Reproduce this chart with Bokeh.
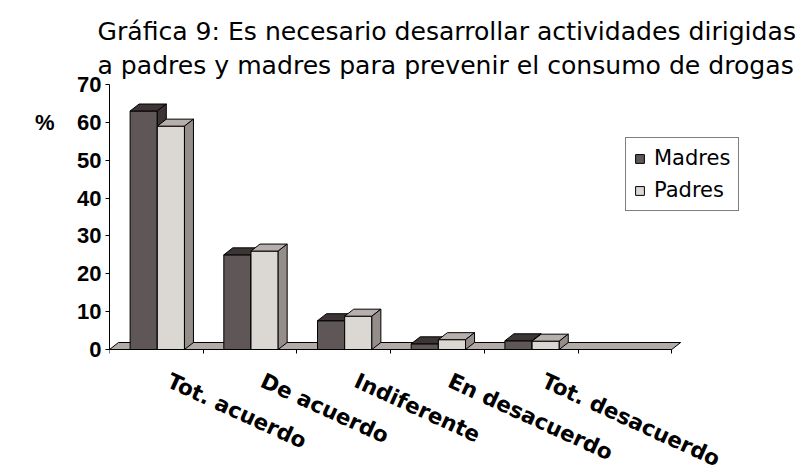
from bokeh.plotting import figure
from bokeh.models import Range1d, FixedTicker, Legend, LegendItem, LinearAxis, Title
from bokeh.embed import file_html
from bokeh.resources import INLINE

# ---- data ----
categories = ["Tot. acuerdo", "De acuerdo", "Indiferente", "En desacuerdo", "Tot. desacuerdo"]
series_names = ["Madres", "Padres"]
madres = [63, 25, 7.6, 1.5, 2.3]
padres = [59, 26, 8.8, 2.6, 2.2]
y_ticks = [0, 10, 20, 30, 40, 50, 60, 70]
title_lines = ["Gráfica 9: Es necesario desarrollar actividades dirigidas",
               "a padres y madres para prevenir el consumo de drogas"]
y_unit = "%"
y_unit_pos = 60

# ---- layout ----
W, H = 803, 473
PX_CAT = 93.7
FL, FT = 109, 84
ZERO_Y = 349           # pixel row of value 0
TOP_Y = 84             # pixel row of value 70
PX_VAL = (ZERO_Y - TOP_Y) / 70.0
frame_w = W - FL
x_end = frame_w / PX_CAT
y_end = 70.0
y_start = -(H - ZERO_Y) / PX_VAL
n_slots = len(categories) + 1
DX = 9 / PX_CAT
DY = 7 / PX_VAL
BAR_OFF = 0.22
BAR_W = 0.29
LABEL_SHIFT = 0.13

front_cols = ["#5f5757", "#dbd7d3"]
top_cols = ["#3d3535", "#b7afac"]
side_cols = ["#3d3535", "#958d8a"]
floor_col = "#b3aba8"

p = figure(width=W, height=H, x_range=Range1d(0, x_end), y_range=Range1d(y_start, y_end),
           output_backend="svg", toolbar_location=None,
           min_border_left=FL, min_border_right=0, min_border_top=FT, min_border_bottom=0)
p.xgrid.visible = False
p.ygrid.visible = False
p.outline_line_color = None
p.background_fill_color = "white"
p.border_fill_color = "white"

p.title = Title(text="\n".join(title_lines), align="left", offset=-12,
                text_font="DejaVu Sans", text_font_size="25.1px", text_font_style="normal",
                text_color="black", text_line_height=1.2, standoff=8)

# floor
p.patch([0, n_slots, n_slots + DX, DX], [0, 0, DY, DY], fill_color=floor_col,
        line_color="black", line_width=1)

front_renderers = []
for s, vals in enumerate([madres, padres]):
    x0 = [i + BAR_OFF + s * BAR_W for i in range(len(categories))]
    x1 = [a + BAR_W for a in x0]
    r = p.quad(left=x0, right=x1, bottom=[0] * len(vals), top=vals,
               fill_color=front_cols[s], line_color="black", line_width=1)
    front_renderers.append(r)
    tx, ty, sx, sy = [], [], [], []
    for a, b, h in zip(x0, x1, vals):
        tx.append([a, b, b + DX, a + DX]); ty.append([h, h, h + DY, h + DY])
        sx.append([b, b + DX, b + DX, b]); sy.append([0, DY, h + DY, h])
    p.patches(tx, ty, fill_color=top_cols[s], line_color="black", line_width=1)
    p.patches(sx, sy, fill_color=side_cols[s], line_color="black", line_width=1)

# x axis, drawn at value 0
label_pos = [i + 0.5 + LABEL_SHIFT for i in range(len(categories))]
xa = p.xaxis[0]
xa.fixed_location = 0
xa.ticker = FixedTicker(ticks=label_pos, minor_ticks=list(range(n_slots + 1)))
xa.major_label_overrides = {c: n for c, n in zip(label_pos, categories)}
xa.bounds = (0, n_slots)
xa.major_label_orientation = -0.43
xa.major_tick_out = 0
xa.major_tick_in = 0
xa.minor_tick_out = 4
xa.minor_tick_in = 0
xa.minor_tick_line_color = "black"
xa.axis_line_color = "black"
xa.major_label_text_font = "DejaVu Sans"
xa.major_label_text_font_style = "bold"
xa.major_label_text_font_size = "21.5px"
xa.major_label_text_color = "black"
xa.major_label_standoff = 26

ya = p.yaxis[0]
ya.ticker = FixedTicker(ticks=y_ticks)
ya.bounds = (y_ticks[0], y_ticks[-1])
ya.major_tick_out = 4
ya.major_tick_in = 0
ya.minor_tick_line_color = None
ya.axis_line_color = "black"
ya.major_label_text_font = "Liberation Sans"
ya.major_label_text_font_style = "bold"
ya.major_label_text_font_size = "22px"
ya.major_label_text_color = "black"
ya.major_label_standoff = 4

# unit "%" as a second, line-less left axis
ua = LinearAxis(ticker=FixedTicker(ticks=[y_unit_pos]), major_label_overrides={y_unit_pos: y_unit},
                axis_line_color=None, major_tick_line_color=None, minor_tick_line_color=None,
                major_label_text_font="Liberation Sans", major_label_text_font_style="bold",
                major_label_text_font_size="22px", major_label_text_color="black",
                major_label_standoff=14)
p.add_layout(ua, "left")

legend = Legend(items=[LegendItem(label=n, renderers=[r]) for n, r in zip(series_names, front_renderers)],
                location=(516, H - 211), orientation="vertical",
                label_text_font="DejaVu Sans", label_text_font_size="21px", label_text_color="black",
                glyph_width=11, glyph_height=11, label_height=20, spacing=8, padding=8, margin=0,
                border_line_color="black", border_line_width=1, background_fill_color="white",
                background_fill_alpha=1.0, label_standoff=9)
p.add_layout(legend)

open("out.html", "w").write(file_html(p, INLINE))
